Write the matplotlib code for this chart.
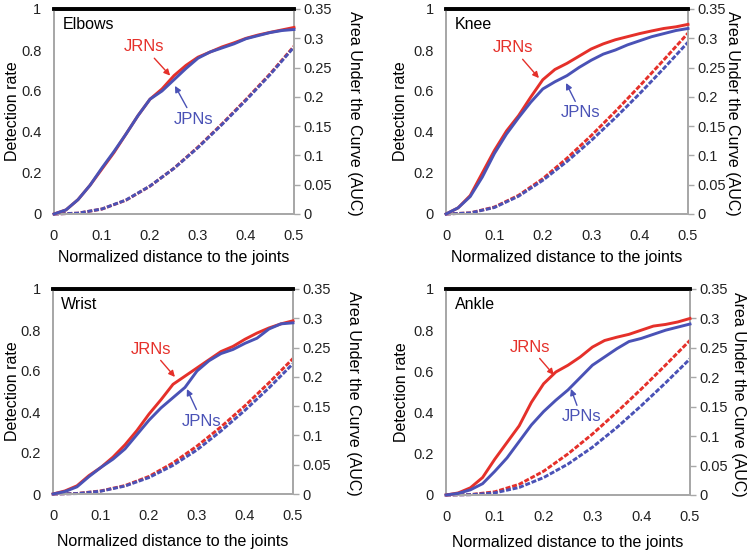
import matplotlib.pyplot as plt
import numpy as np

plt.rcParams['font.family'] = ['Liberation Sans', 'DejaVu Sans']

red = '#E5302A'
blue = '#4A52B6'
grey = '#A8A8A8'

# detection rate sampled every 0.025, AUC every 0.05
dist = [0, .025, .05, .075, .1, .125, .15, .175, .2, .225, .25, .275, .3,
        .325, .35, .375, .4, .425, .45, .475, .5]
dist_auc = [0, .05, .1, .15, .2, .25, .3, .35, .4, .45, .5]

elbows_jrn = [0, .02, .07, .14, .22, .30, .39, .48, .56, .61, .675, .725, .765,
              .79, .815, .835, .857, .873, .886, .898, .91]
elbows_jpn = [0, .02, .07, .14, .225, .305, .39, .48, .56, .60, .655, .71, .76,
              .79, .81, .83, .855, .87, .885, .895, .90]
elbows_jrn_auc = [0, .0014, .0085, .0236, .0475, .0782, .1143, .1538, .1956, .2392, .2865]
elbows_jpn_auc = [0, .0014, .0086, .0239, .0478, .0779, .1134, .1528, .1943, .2378, .2850]

knee_jrn = [0, .03, .09, .20, .31, .405, .48, .57, .655, .705, .735, .77, .805,
            .83, .85, .865, .88, .893, .905, .913, .925]
knee_jpn = [0, .03, .085, .18, .295, .39, .47, .545, .61, .645, .675, .715, .75,
            .78, .80, .825, .845, .865, .88, .895, .905]
knee_jrn_auc = [0, .0019, .0119, .0319, .0603, .0953, .1338, .1752, .2185, .2631, .3088]
knee_jpn_auc = [0, .0018, .0111, .0304, .0575, .0897, .1254, .1643, .2054, .2486, .2933]

wrist_jrn = [0, .015, .04, .09, .13, .18, .24, .31, .39, .46, .535, .575, .615,
             .655, .695, .72, .755, .785, .81, .83, .845]
wrist_jpn = [0, .012, .035, .085, .13, .17, .22, .29, .36, .42, .47, .52, .60,
             .65, .685, .705, .735, .76, .805, .83, .835]
wrist_jrn_auc = [0, .0009, .0053, .0144, .0300, .0531, .0818, .1146, .1507, .1899, .2313]
wrist_jpn_auc = [0, .0007, .0049, .0136, .0281, .0489, .0753, .1076, .1430, .1812, .2225]

ankle_jrn = [0, .01, .035, .085, .174, .255, .336, .45, .54, .597, .63, .67, .718,
             .75, .766, .78, .80, .82, .828, .84, .857]
ankle_jpn = [0, .008, .025, .055, .115, .18, .26, .34, .405, .46, .51, .57, .63,
             .67, .71, .745, .76, .78, .80, .815, .83]
ankle_jrn_auc = [0, .0007, .0054, .0182, .0404, .0699, .1035, .1408, .1799, .2208, .2628]
ankle_jpn_auc = [0, .0005, .0036, .0128, .0296, .0526, .0811, .1146, .1516, .1906, .2313]

fig = plt.figure(figsize=(7.48, 5.54), dpi=100)

panels = [
    ('Elbows', [54/748, 1-214/554, 240/748, 205/554], elbows_jrn, elbows_jpn,
     elbows_jrn_auc, elbows_jpn_auc, (.1875, .815), (.242, .675), (.29, .463), (.252, .625),
     -0.142, 1.254, -0.176),
    ('Knee', [446/748, 1-214/554, 242/748, 205/554], knee_jrn, knee_jpn,
     knee_jrn_auc, knee_jpn_auc, (.138, .81), (.192, .663), (.279, .493), (.248, .639),
     -0.157, 1.185, -0.176),
    ('Wrist', [53/748, 1-494/554, 240/748, 205/554], wrist_jrn, wrist_jpn,
     wrist_jrn_auc, wrist_jpn_auc, (.204, .707), (.254, .571), (.31, .356), (.279, .512),
     -0.1375, 1.25, -0.195),
    ('Ankle', [446/748, 1-495/554, 244/748, 206/554], ankle_jrn, ankle_jpn,
     ankle_jrn_auc, ankle_jpn_auc, (.172, .718), (.221, .583), (.277, .379), (.256, .515),
     -0.152, 1.2, -0.194),
]

for (name, rect, jrn, jpn, jrn_auc, jpn_auc, t1, a1, t2, a2,
     ylx, y2x, xly) in panels:
    ax = fig.add_axes(rect)
    ax2 = ax.twinx()

    ax.plot(dist, jrn, color=red, lw=2.1, zorder=3, clip_on=False)
    ax.plot(dist, jpn, color=blue, lw=2.1, zorder=4, clip_on=False)
    ax2.plot(dist_auc, jrn_auc, color=red, lw=2.1, dashes=(1.7, 0.6), clip_on=False)
    ax2.plot(dist_auc, jpn_auc, color=blue, lw=2.1, dashes=(1.7, 0.6), clip_on=False)

    ax.set_xlim(0, 0.5)
    ax.set_ylim(0, 1)
    ax2.set_ylim(0, 0.35)
    ax.set_xticks([0, .1, .2, .3, .4, .5])
    ax.set_xticklabels(['0', '0.1', '0.2', '0.3', '0.4', '0.5'])
    ax.set_yticks([0, .2, .4, .6, .8, 1])
    ax.set_yticklabels(['0', '0.2', '0.4', '0.6', '0.8', '1'])
    ax2.set_yticks([0, .05, .1, .15, .2, .25, .3, .35])
    ax2.set_yticklabels(['0', '0.05', '0.1', '0.15', '0.2', '0.25', '0.3', '0.35'])

    ax.tick_params(axis='both', length=0, labelsize=10.5, colors='#222222')
    ax.tick_params(axis='x', pad=11)
    ax.tick_params(axis='y', pad=9)
    ax2.tick_params(axis='y', length=4, width=1, color=grey, labelsize=10.5,
                    labelcolor='#222222', pad=3)

    for a in (ax, ax2):
        for s in ('left', 'right', 'bottom'):
            a.spines[s].set_color(grey)
            a.spines[s].set_linewidth(1.3)
        a.spines['top'].set_color('black')
        a.spines['top'].set_linewidth(2.6)

    ax.set_ylabel('Detection rate', fontsize=11.5)
    ax.yaxis.set_label_coords(ylx, 0.5)
    ax.set_xlabel('Normalized distance to the joints', fontsize=11.5)
    ax.xaxis.set_label_coords(0.5, xly)
    ax2.set_ylabel('Area Under the Curve (AUC)', fontsize=11.5, rotation=270,
                   va='center')
    ax2.yaxis.set_label_coords(y2x, 0.49)

    ax.text(0.035, 0.925, name, transform=ax.transAxes, fontsize=11.5,
            ha='left', va='center')

    ax.annotate('JRNs', xy=a1, xytext=t1, color=red, fontsize=12,
                ha='center', va='center', zorder=6,
                arrowprops=dict(arrowstyle='-|>', color=red, lw=1,
                                mutation_scale=9, shrinkA=1, shrinkB=0))
    ax.annotate('JPNs', xy=a2, xytext=t2, color=blue, fontsize=12,
                ha='center', va='center', zorder=6,
                arrowprops=dict(arrowstyle='-|>', color=blue, lw=1,
                                mutation_scale=9, shrinkA=1, shrinkB=0))
    ax.set_zorder(ax2.get_zorder() + 1)
    ax.patch.set_visible(False)

fig.savefig('out.png', dpi=100)
